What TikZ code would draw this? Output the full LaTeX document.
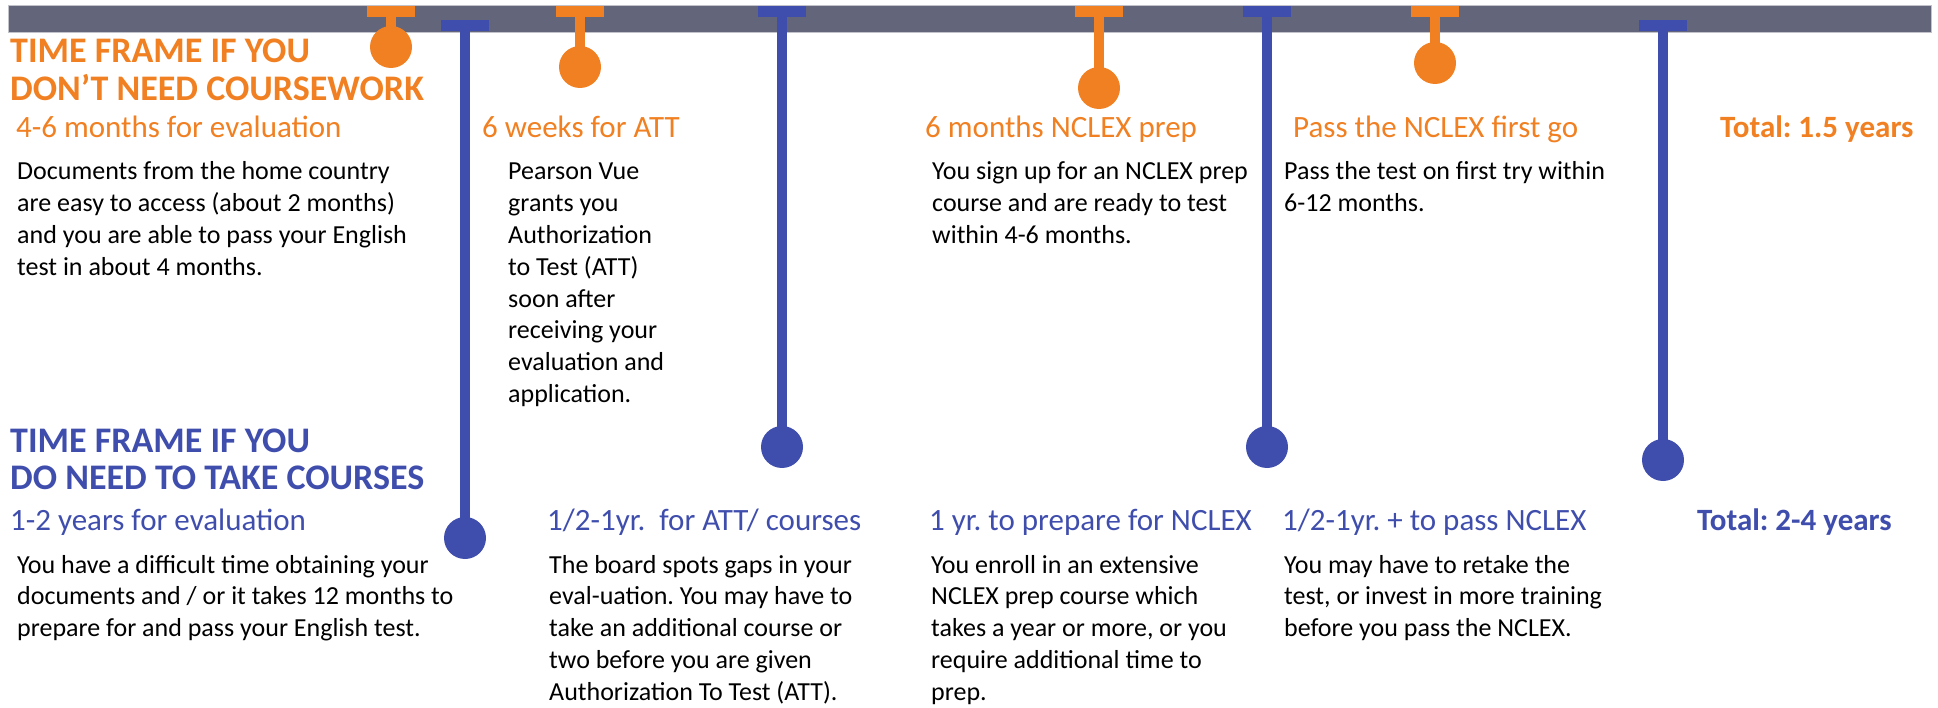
\documentclass[tikz,border=0pt]{standalone}
\usepackage{fontspec}
\setmainfont{Carlito}
\usepackage{xcolor}
\frenchspacing
\definecolor{tforange}{RGB}{240,128,34}
\definecolor{tfblue}{RGB}{63,78,173}
\definecolor{tfbar}{RGB}{99,102,122}
\newcommand{\Lines}[1]{\begin{tabular}[t]{@{}l@{}}#1\end{tabular}}
\tikzset{
    Head/.style = {anchor=base west,inner sep=0pt,font=\fontsize{36}{37}\selectfont\bfseries},
    Sub/.style = {anchor=base west,inner sep=0pt,font=\fontsize{31}{36}\selectfont},
    Total/.style = {Sub,font=\fontsize{31}{36}\selectfont\bfseries},
    Body/.style = {anchor=base west,inner sep=0pt,font=\fontsize{26}{31.8}\selectfont},
    Cap/.style = {fill=#1,inner sep=0pt,minimum width=48pt,minimum height=11pt},
    Bulb/.style = {fill=#1,circle,inner sep=0pt,minimum size=42pt},
    Stem/.style = {draw=#1,line width=10pt}
}
\begin{document}
\begin{tikzpicture}[x=1pt,y=-1pt]
        \useasboundingbox (0,0) rectangle (1938,708);
        \draw[fill=tfbar,draw=tfbar!40,line width=1pt] (8,6) rectangle (1931,33);
        \foreach \i/\x/\y in {1/391/47,2/580/67,3/1099/88,4/1435/63}
            {\node[Cap=tforange] (ot\i) at (\x,11.5) {};
             \node[Bulb=tforange] (ob\i) at (\x,\y) {};
             \draw[Stem=tforange] (ot\i.center) -- (ob\i.center);}
        \foreach \i/\x/\t/\y in {1/465/25.5/538,2/782/11.5/447,3/1267/11.5/447,4/1663/25.5/460}
            {\node[Cap=tfblue] (bt\i) at (\x,\t) {};
             \node[Bulb=tfblue] (bb\i) at (\x,\y) {};
             \draw[Stem=tfblue] (bt\i.center) -- (bb\i.center);}
        % without coursework
        \node[Head,text=tforange] (nohead) at (10,63) {\Lines{TIME FRAME IF YOU\\DON’T NEED COURSEWORK}};
        \node[Sub,text=tforange] (nosub1) at (16,138) {4-6 months for evaluation};
        \node[Sub,text=tforange] (nosub2) at (482,138) {6 weeks for ATT};
        \node[Sub,text=tforange] (nosub3) at (925,138) {6 months NCLEX prep};
        \node[Sub,text=tforange] (nosub4) at (1293,138) {Pass the NCLEX first go};
        \node[Total,text=tforange] (nototal) at (1720,138) {Total: 1.5 years};
        \node[Body] (notext1) at (17,180) {\Lines{Documents from the home country\\are easy to access (about 2 months)\\and you are able to pass your English\\test in about 4 months.}};
        \node[Body] (notext2) at (508,180) {\Lines{Pearson Vue\\grants you\\Authorization\\to Test (ATT)\\soon after\\receiving your\\evaluation and\\application.}};
        \node[Body] (notext3) at (932,180) {\Lines{You sign up for an NCLEX prep\\course and are ready to test\\within 4-6 months.}};
        \node[Body] (notext4) at (1284,180) {\Lines{Pass the test on first try within\\6-12 months.}};
        % with courses
        \node[Head,text=tfblue] (dohead) at (10,452) {\Lines{TIME FRAME IF YOU\\DO NEED TO TAKE COURSES}};
        \node[Sub,text=tfblue] (dosub1) at (10,530) {1-2 years for evaluation};
        \node[Sub,text=tfblue] (dosub2) at (547,530) {1/2-1yr.\ \ for ATT/ courses};
        \node[Sub,text=tfblue] (dosub3) at (929,530) {1 yr. to prepare for NCLEX};
        \node[Sub,text=tfblue] (dosub4) at (1282,530) {1/2-1yr. + to pass NCLEX};
        \node[Total,text=tfblue] (dototal) at (1697,530) {Total: 2-4 years};
        \node[Body] (dotext1) at (17,573) {\Lines{You have a difficult time obtaining your\\documents and / or it takes 12 months to\\prepare for and pass your English test.}};
        \node[Body] (dotext2) at (549,573) {\Lines{The board spots gaps in your\\eval-uation. You may have to\\take an additional course or\\two before you are given\\Authorization To Test (ATT).}};
        \node[Body] (dotext3) at (931,573) {\Lines{You enroll in an extensive\\NCLEX prep course which\\takes a year or more, or you\\require additional time to\\prep.}};
        \node[Body] (dotext4) at (1284,573) {\Lines{You may have to retake the\\test, or invest in more training\\before you pass the NCLEX.}};
\end{tikzpicture}
\end{document}
